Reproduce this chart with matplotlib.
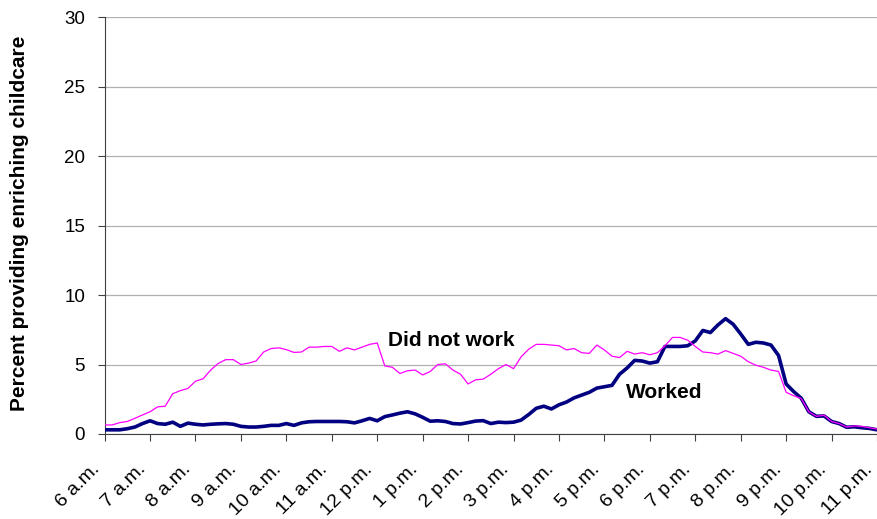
import numpy as np
import matplotlib
matplotlib.use('Agg')
import matplotlib.pyplot as plt
import matplotlib.transforms as mtransforms

plt.rcParams['font.family'] = ['Liberation Sans', 'DejaVu Sans']

# hour labels on the category axis
hour_labels = ['6 a.m.', '7 a.m.', '8 a.m.', '9 a.m.', '10 a.m.', '11 a.m.', '12 p.m.',
               '1 p.m.', '2 p.m.', '3 p.m.', '4 p.m.', '5 p.m.', '6 p.m.', '7 p.m.',
               '8 p.m.', '9 p.m.', '10 p.m.', '11 p.m.']

# percent providing enriching childcare, 10-minute steps from 6 a.m. to 11 p.m.
did_not_work = [0.65, 0.65, 0.82, 0.9, 1.13, 1.37, 1.6, 1.95, 2.0, 2.9,
                3.12, 3.28, 3.8, 3.97, 4.6, 5.08, 5.35, 5.35, 5.0, 5.1,
                5.25, 5.9, 6.15, 6.2, 6.07, 5.87, 5.9, 6.25, 6.25, 6.3,
                6.3, 5.95, 6.2, 6.05, 6.25, 6.45, 6.55, 4.9, 4.8, 4.35,
                4.55, 4.6, 4.25, 4.5, 5.0, 5.05, 4.6, 4.3, 3.6, 3.9,
                3.95, 4.3, 4.7, 5.0, 4.7, 5.55, 6.1, 6.45, 6.45, 6.4,
                6.35, 6.05, 6.15, 5.85, 5.8, 6.4, 6.05, 5.6, 5.5, 5.95,
                5.75, 5.85, 5.7, 5.85, 6.35, 6.95, 6.95, 6.75, 6.3, 5.9,
                5.85, 5.75, 6.0, 5.8, 5.6, 5.2, 4.95, 4.8, 4.6, 4.5,
                3.0, 2.75, 2.55, 1.6, 1.27, 1.35, 0.9, 0.75, 0.5, 0.58,
                0.55, 0.45, 0.35]

worked = [0.3, 0.3, 0.3, 0.38, 0.5, 0.75, 0.95, 0.75, 0.7, 0.85,
          0.55, 0.78, 0.7, 0.65, 0.7, 0.73, 0.75, 0.7, 0.55, 0.5,
          0.5, 0.55, 0.62, 0.62, 0.75, 0.62, 0.8, 0.88, 0.9, 0.9,
          0.9, 0.9, 0.88, 0.8, 0.95, 1.12, 0.95, 1.25, 1.37, 1.5,
          1.6, 1.45, 1.2, 0.92, 0.95, 0.9, 0.75, 0.72, 0.82, 0.93,
          0.96, 0.75, 0.85, 0.82, 0.85, 1.0, 1.4, 1.85, 2.0, 1.8,
          2.1, 2.3, 2.6, 2.8, 3.0, 3.3, 3.4, 3.5, 4.3, 4.75,
          5.3, 5.25, 5.1, 5.2, 6.3, 6.3, 6.3, 6.35, 6.7, 7.45,
          7.3, 7.85, 8.3, 7.9, 7.2, 6.45, 6.6, 6.55, 6.4, 5.65,
          3.6, 3.05, 2.57, 1.6, 1.27, 1.3, 0.9, 0.75, 0.48, 0.52,
          0.45, 0.4, 0.3]

hours = 6 + np.arange(len(worked)) / 6.0

fig = plt.figure(figsize=(8.77, 5.19), dpi=100)
ax = fig.add_axes([0.1193, 0.1638, 0.8807, 0.8032])

ax.plot(hours, worked, color='#000080', lw=2.6, solid_joinstyle='round', zorder=3)
ax.plot(hours, did_not_work, color='#FF00FF', lw=0.9, zorder=4)

ax.set_xlim(6, 23)
ax.set_ylim(0, 30)
ax.set_yticks(np.arange(0, 31, 5))
ax.set_xticks(np.arange(6, 24))
ax.set_xticklabels(hour_labels, rotation=45, ha='right', va='baseline', rotation_mode='anchor')
ax.yaxis.grid(True, color='#b0b0b0', lw=0.9)
ax.set_axisbelow(True)

for s in ['top', 'right']:
    ax.spines[s].set_visible(False)
ax.spines['left'].set_color('#404040')
ax.spines['bottom'].set_color('#404040')
ax.tick_params(axis='both', direction='out', length=5, color='#404040', labelsize=13.5)
ax.tick_params(axis='y', pad=9)
ax.tick_params(axis='x', pad=21, labelsize=14)

# nudge the slanted hour labels a little to the left, like the original
shift = mtransforms.ScaledTranslation(-4 / 100, 0, fig.dpi_scale_trans)
for lab in ax.get_xticklabels():
    lab.set_transform(lab.get_transform() + shift)

fig.text(0.0217, 1 - 223 / 519, 'Percent providing enriching childcare', rotation=90,
         fontsize=15, fontweight='bold', ha='center', va='center')

ax.text(13.64, 6.76, 'Did not work', fontsize=15, fontweight='bold', ha='center', va='center')
ax.text(18.32, 3.02, 'Worked', fontsize=15, fontweight='bold', ha='center', va='center')

plt.savefig('out.png', dpi=100)
